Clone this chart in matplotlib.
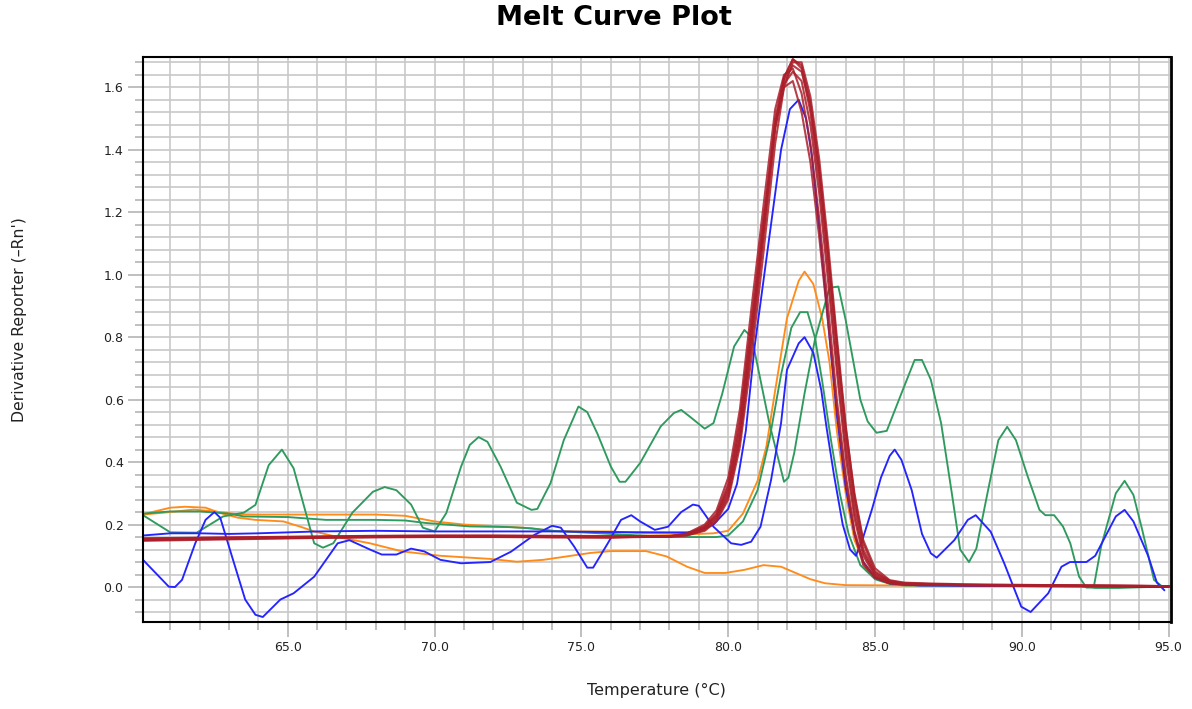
import matplotlib.pyplot as plt
from matplotlib.ticker import MultipleLocator, FormatStrFormatter
import numpy as np

# ---- data ----
red_x = [60.07, 62, 64, 66, 68, 70, 72, 74, 76, 78, 78.6, 79.2, 79.6, 80.0, 80.4, 80.8,
         81.2, 81.6, 81.9, 82.2, 82.5, 82.8, 83.1, 83.4, 83.7, 84.0, 84.3, 84.6, 85.0,
         85.5, 86, 87, 88, 90, 92, 95]
red_1 = [0.152, 0.155, 0.157, 0.160, 0.162, 0.163, 0.162, 0.160, 0.160, 0.162, 0.168, 0.19,
         0.225, 0.31, 0.50, 0.82, 1.15, 1.50, 1.63, 1.69, 1.66, 1.52, 1.30, 1.02, 0.72, 0.45,
         0.24, 0.11, 0.04, 0.016, 0.010, 0.008, 0.006, 0.005, 0.004, 0.003]
red_2 = [0.150, 0.153, 0.156, 0.158, 0.160, 0.161, 0.161, 0.160, 0.159, 0.163, 0.172, 0.20,
         0.245, 0.35, 0.57, 0.90, 1.22, 1.53, 1.64, 1.66, 1.58, 1.42, 1.18, 0.90, 0.60, 0.36,
         0.18, 0.08, 0.03, 0.012, 0.008, 0.007, 0.006, 0.005, 0.004, 0.003]
red_3 = [0.155, 0.157, 0.159, 0.161, 0.163, 0.164, 0.164, 0.163, 0.162, 0.161, 0.165, 0.18,
         0.21, 0.28, 0.45, 0.74, 1.07, 1.42, 1.60, 1.68, 1.68, 1.57, 1.37, 1.10, 0.80, 0.52,
         0.29, 0.14, 0.05, 0.02, 0.012, 0.009, 0.007, 0.005, 0.004, 0.003]
red_4 = [0.148, 0.151, 0.154, 0.157, 0.159, 0.160, 0.160, 0.159, 0.158, 0.162, 0.170, 0.195,
         0.235, 0.33, 0.54, 0.86, 1.18, 1.47, 1.60, 1.62, 1.52, 1.36, 1.12, 0.85, 0.57, 0.34,
         0.17, 0.07, 0.03, 0.012, 0.008, 0.007, 0.006, 0.005, 0.004, 0.003]
red_5 = [0.156, 0.158, 0.160, 0.162, 0.164, 0.165, 0.165, 0.164, 0.163, 0.162, 0.166, 0.183,
         0.215, 0.29, 0.47, 0.78, 1.12, 1.47, 1.63, 1.69, 1.67, 1.55, 1.34, 1.07, 0.77, 0.49,
         0.27, 0.12, 0.045, 0.018, 0.011, 0.009, 0.007, 0.005, 0.004, 0.003]
red_6 = [0.153, 0.156, 0.158, 0.160, 0.162, 0.162, 0.162, 0.161, 0.160, 0.162, 0.169, 0.192,
         0.23, 0.32, 0.52, 0.84, 1.16, 1.48, 1.61, 1.65, 1.62, 1.48, 1.26, 0.98, 0.69, 0.42,
         0.22, 0.10, 0.035, 0.014, 0.009, 0.008, 0.006, 0.005, 0.004, 0.003]
red_7 = [0.151, 0.154, 0.157, 0.159, 0.161, 0.162, 0.163, 0.162, 0.161, 0.163, 0.167, 0.187,
         0.22, 0.30, 0.48, 0.80, 1.13, 1.48, 1.62, 1.67, 1.65, 1.54, 1.33, 1.06, 0.78, 0.51,
         0.30, 0.15, 0.06, 0.022, 0.014, 0.011, 0.009, 0.007, 0.005, 0.003]
red_curves = [red_1, red_2, red_3, red_4, red_5, red_6, red_7]

blue1_x = [60.07, 61.0, 62.0, 63.0, 64.0, 65.0, 66.0, 68.0, 70.0, 72.0, 74.0, 76.0, 78.0, 78.6,
           79.0, 79.5, 80.0, 80.3, 80.6, 80.9, 81.4, 81.8, 82.1, 82.4, 82.65, 82.85, 83.1,
           83.4, 83.7, 84.0, 84.3, 84.6, 85.0, 85.5, 86.5, 95.0]
blue1_y = [0.165, 0.172, 0.172, 0.17, 0.172, 0.175, 0.178, 0.18, 0.178, 0.178, 0.178, 0.176,
           0.175, 0.175, 0.18, 0.2, 0.25, 0.33, 0.5, 0.77, 1.12, 1.4, 1.53, 1.56, 1.5, 1.38,
           1.15, 0.85, 0.55, 0.32, 0.17, 0.08, 0.03, 0.012, 0.005, 0.0]

blue2_x = [60.07, 60.5, 60.95, 61.16, 61.4, 61.85, 62.2, 62.5, 62.7, 63.1, 63.55, 63.9, 64.15,
           64.75, 65.2, 65.9, 66.7, 67.1, 67.8, 68.2, 68.7, 69.2, 69.65, 70.2, 70.9, 71.9,
           72.6, 73.4, 74.0, 74.3, 74.75, 75.2, 75.4, 75.9, 76.35, 76.7, 77.0, 77.5, 77.95,
           78.4, 78.8, 79.0, 79.5, 80.1, 80.44, 80.78, 81.1, 81.46, 81.8, 82.0, 82.4, 82.6,
           82.9, 83.17, 83.35, 83.6, 83.9, 84.15, 84.35, 84.6, 84.9, 85.2, 85.5, 85.67, 85.9,
           86.25, 86.6, 86.9, 87.1, 87.7, 88.16, 88.43, 88.94, 89.4, 89.98, 90.3, 90.9, 91.35,
           91.64, 92.2, 92.5, 93.2, 93.5, 93.8, 94.3, 94.6, 94.85]
blue2_y = [0.087, 0.045, 0.001, 0.0, 0.023, 0.14, 0.215, 0.24, 0.222, 0.098, -0.04, -0.089,
           -0.096, -0.04, -0.02, 0.033, 0.14, 0.15, 0.12, 0.104, 0.104, 0.123, 0.114, 0.087,
           0.076, 0.08, 0.113, 0.167, 0.196, 0.19, 0.13, 0.062, 0.062, 0.14, 0.215, 0.23, 0.21,
           0.183, 0.193, 0.24, 0.264, 0.26, 0.193, 0.14, 0.135, 0.145, 0.193, 0.343, 0.525,
           0.695, 0.78, 0.8, 0.75, 0.63, 0.51, 0.36, 0.2, 0.12, 0.1, 0.16, 0.25, 0.35, 0.42,
           0.44, 0.407, 0.31, 0.17, 0.108, 0.094, 0.15, 0.215, 0.23, 0.177, 0.076, -0.063,
           -0.08, -0.02, 0.065, 0.08, 0.08, 0.1, 0.226, 0.247, 0.21, 0.1, 0.014, -0.01]

green1_x = [60.07, 61.0, 61.9, 62.8, 63.5, 63.9, 64.35, 64.8, 65.2, 65.9, 66.2, 66.55, 67.2,
            67.9, 68.3, 68.7, 69.2, 69.6, 70.0, 70.4, 70.9, 71.2, 71.5, 71.8, 72.25, 72.8,
            73.3, 73.5, 73.95, 74.4, 74.9, 75.2, 75.55, 76.0, 76.3, 76.5, 77.0, 77.7, 78.15,
            78.4, 78.7, 79.2, 79.5, 79.8, 80.2, 80.55, 80.8, 81.4, 81.9, 82.05, 82.25, 82.6,
            82.95, 83.45, 83.75, 84.0, 84.5, 84.75, 85.05, 85.4, 85.9, 86.35, 86.6, 86.9,
            87.25, 87.6, 87.9, 88.2, 88.45, 88.85, 89.2, 89.5, 89.8, 90.2, 90.6, 90.8, 91.1,
            91.4, 91.65, 91.95, 92.2, 92.45, 92.7, 93.2, 93.5, 93.8, 94.1, 94.5, 94.8]
green1_y = [0.23, 0.175, 0.174, 0.226, 0.238, 0.263, 0.39, 0.44, 0.38, 0.14, 0.126, 0.14,
            0.238, 0.305, 0.32, 0.31, 0.264, 0.19, 0.178, 0.237, 0.385, 0.455, 0.48, 0.465,
            0.385, 0.27, 0.247, 0.25, 0.333, 0.47, 0.578, 0.56, 0.49, 0.386, 0.337, 0.337,
            0.397, 0.514, 0.557, 0.567, 0.545, 0.507, 0.525, 0.62, 0.77, 0.823, 0.8, 0.525,
            0.337, 0.35, 0.43, 0.62, 0.79, 0.958, 0.962, 0.855, 0.6, 0.53, 0.494, 0.5, 0.62,
            0.727, 0.727, 0.664, 0.525, 0.31, 0.12, 0.08, 0.123, 0.31, 0.47, 0.513, 0.47,
            0.354, 0.247, 0.23, 0.23, 0.194, 0.14, 0.033, -0.002, 0.0, 0.13, 0.3, 0.34, 0.295,
            0.183, 0.023, 0.0]

green2_x = [60.07, 61.0, 62.0, 63.0, 63.5, 65.0, 66.3, 68.0, 69.0, 69.7, 70.4, 71.2, 72.5,
            73.3, 74.0, 75.0, 76.0, 77.0, 78.0, 79.0, 79.6, 80.0, 80.5, 81.0, 81.4, 81.8,
            82.15, 82.45, 82.7, 82.95, 83.2, 83.5, 83.8, 84.1, 84.5, 85.0, 85.5, 86.0, 88.0,
            90.0, 92.0, 92.5, 93.3, 95.0]
green2_y = [0.235, 0.242, 0.242, 0.235, 0.226, 0.224, 0.215, 0.215, 0.213, 0.205, 0.2, 0.194,
            0.192, 0.188, 0.18, 0.175, 0.17, 0.165, 0.16, 0.16, 0.16, 0.165, 0.21, 0.31, 0.47,
            0.68, 0.83, 0.88, 0.88, 0.8, 0.66, 0.47, 0.3, 0.17, 0.07, 0.025, 0.01, 0.005,
            0.004, 0.003, 0.002, -0.003, -0.003, 0.002]

orange1_x = [60.07, 61.0, 61.8, 62.5, 63.3, 64.0, 66.0, 68.0, 69.0, 70.0, 71.0, 72.0, 73.0,
             74.0, 75.0, 76.0, 77.0, 78.0, 79.0, 79.5, 80.0, 80.5, 81.0, 81.3, 81.6, 82.0,
             82.4, 82.6, 82.9, 83.2, 83.45, 83.7, 84.0, 84.3, 84.7, 85.2, 85.8, 87.0, 95.0]
orange1_y = [0.232, 0.24, 0.248, 0.242, 0.233, 0.232, 0.232, 0.232, 0.228, 0.21, 0.2, 0.195,
             0.19, 0.18, 0.178, 0.178, 0.172, 0.17, 0.17, 0.172, 0.18, 0.235, 0.34, 0.45, 0.63,
             0.86, 0.98, 1.01, 0.97, 0.86, 0.72, 0.5, 0.3, 0.15, 0.06, 0.02, 0.008, 0.005,
             0.003]

orange2_x = [60.07, 61.0, 61.5, 62.2, 62.7, 63.3, 63.9, 64.85, 65.4, 65.9, 66.7, 67.8, 68.9,
             70.2, 71.2, 71.9, 72.8, 73.7, 74.5, 75.3, 76.0, 77.2, 77.9, 78.6, 79.2, 79.9,
             80.55, 81.2, 81.8, 82.3, 82.8, 83.3, 84.0, 86.0, 95.0]
orange2_y = [0.233, 0.254, 0.257, 0.254, 0.237, 0.222, 0.215, 0.21, 0.194, 0.178, 0.16, 0.14,
             0.114, 0.1, 0.094, 0.09, 0.081, 0.087, 0.098, 0.109, 0.115, 0.115, 0.098, 0.065,
             0.045, 0.045, 0.055, 0.07, 0.065, 0.045, 0.025, 0.012, 0.006, 0.005, 0.003]

fig = plt.figure(figsize=(11.92, 7.09), dpi=100)
ax = fig.add_axes([143/1192, 1-622/709, (1171-143)/1192, (622-57)/709])

lw = 1.35
ax.plot(orange2_x, orange2_y, color='#ff8c1a', lw=lw)
ax.plot(orange1_x, orange1_y, color='#ff8c1a', lw=lw)
ax.plot(green2_x, green2_y, color='#2e9a5e', lw=lw)
ax.plot(green1_x, green1_y, color='#2e9a5e', lw=lw)
ax.plot(blue2_x, blue2_y, color='#2424ff', lw=lw)
ax.plot(blue1_x, blue1_y, color='#2424ff', lw=lw)
for ry in red_curves:
    ax.plot(red_x, ry, color='#ab1f2a', lw=1.5, alpha=0.85)

ax.set_xlim(60.07, 95.08)
ax.set_ylim(-0.112, 1.697)

ax.xaxis.set_major_locator(MultipleLocator(5))
ax.xaxis.set_minor_locator(MultipleLocator(1))
ax.yaxis.set_major_locator(MultipleLocator(0.2))
ax.yaxis.set_minor_locator(MultipleLocator(0.04))
ax.xaxis.set_major_formatter(FormatStrFormatter('%.1f'))
ax.yaxis.set_major_formatter(FormatStrFormatter('%.1f'))

ax.grid(which='both', color='#c8c8c8', lw=1.2)
ax.set_axisbelow(True)

ax.tick_params(which='major', length=11, width=1.2, color='#b4b4b4', labelsize=9,
               labelcolor='#222222', pad=3)
ax.tick_params(which='minor', length=5.5, width=1.2, color='#b4b4b4')

for side in ['left', 'bottom', 'top', 'right']:
    ax.spines[side].set_color('black')
    ax.spines[side].set_linewidth(1.5)
ax.spines['right'].set_linewidth(2)

fig.text(614/1192, 1-18/709, 'Melt Curve Plot', ha='center', va='center',
         fontsize=19.5, fontweight='bold')
fig.text(656/1192, 1-690/709, 'Temperature (°C)', ha='center', va='center', fontsize=11.5,
         color='#222222')
fig.text(20/1192, 1-320/709, "Derivative Reporter (\u2013Rn')", ha='center', va='center',
         rotation=90, fontsize=11.3, color='#222222')

fig.savefig('out.png', dpi=100)
